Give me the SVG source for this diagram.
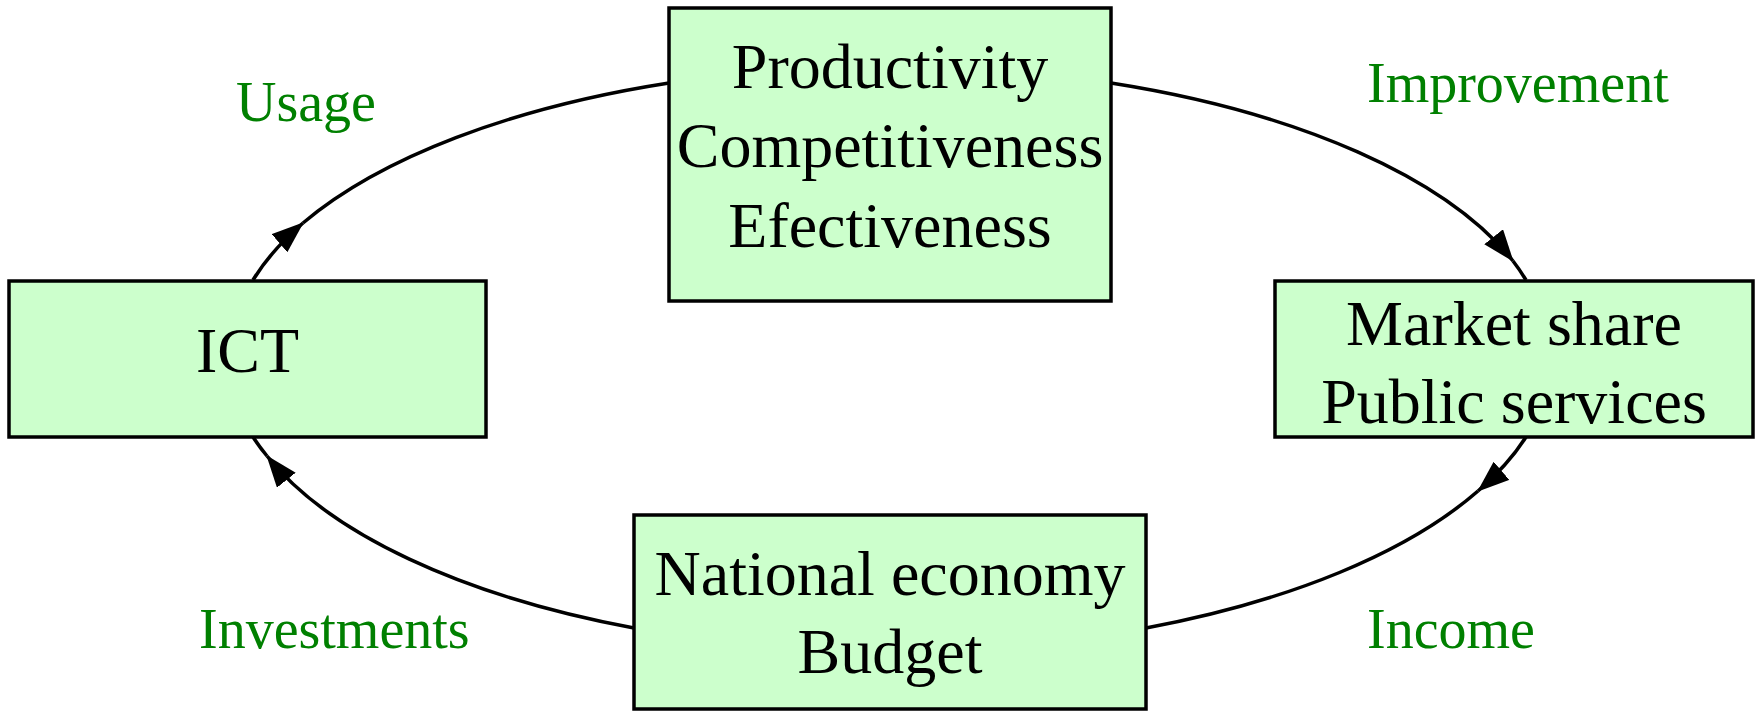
<svg xmlns="http://www.w3.org/2000/svg" width="1759" height="711" viewBox="0 0 1759 711">
<style>
.box{fill:#ccffcc;stroke:#000;stroke-width:3.5}
.t{font-family:"Liberation Serif","Times New Roman",serif;font-size:64px;fill:#000;text-anchor:middle}
.lbl{font-family:"Liberation Serif","Times New Roman",serif;font-size:56px;fill:#008000}
.c{fill:none;stroke:#000;stroke-width:3.5}
</style>
<defs>
<marker id="ah" markerUnits="userSpaceOnUse" markerWidth="32" markerHeight="24" viewBox="0 0 32 24" refX="31" refY="12" orient="auto">
<path d="M0,0 L32,12 L0,24 z" fill="#000"/>
</marker>
</defs>
<rect width="1759" height="711" fill="#fff"/>
<g id="connectors">
<path class="c" d="M253,280 A661,292 0 0,1 303,223" marker-end="url(#ah)"/>
<path class="c" d="M303,223 A661,292 0 0,1 669,83"/>
<path class="c" d="M1111,83 A661,292 0 0,1 1513,261" marker-end="url(#ah)"/>
<path class="c" d="M1513,261 A661,292 0 0,1 1526,280"/>
<path class="c" d="M1526,437 A661,292 0 0,1 1478,491" marker-end="url(#ah)"/>
<path class="c" d="M1478,491 A661,292 0 0,1 1146,628"/>
<path class="c" d="M634,628 A661,292 0 0,1 267,456" marker-end="url(#ah)"/>
<path class="c" d="M267,456 A661,292 0 0,1 253,437"/>
</g>
<g id="productivity">
<rect class="box" x="669" y="8" width="442" height="293"/>
<text class="t" x="890" y="88">Productivity</text>
<text class="t" x="890" y="167">Competitiveness</text>
<text class="t" x="890" y="247">Efectiveness</text>
</g>
<g id="ict">
<rect class="box" x="9" y="281" width="477" height="156"/>
<text class="t" x="247.5" y="372">ICT</text>
</g>
<g id="market">
<rect class="box" x="1275" y="281" width="478" height="156"/>
<text class="t" x="1514" y="345">Market share</text>
<text class="t" x="1514" y="423">Public services</text>
</g>
<g id="national">
<rect class="box" x="634" y="515" width="512" height="194"/>
<text class="t" x="890" y="595">National economy</text>
<text class="t" x="890" y="673">Budget</text>
</g>
<g id="labels">
<text class="lbl" x="236" y="121">Usage</text>
<text class="lbl" x="1367" y="102">Improvement</text>
<text class="lbl" x="199" y="648">Investments</text>
<text class="lbl" x="1367" y="648">Income</text>
</g>
</svg>
